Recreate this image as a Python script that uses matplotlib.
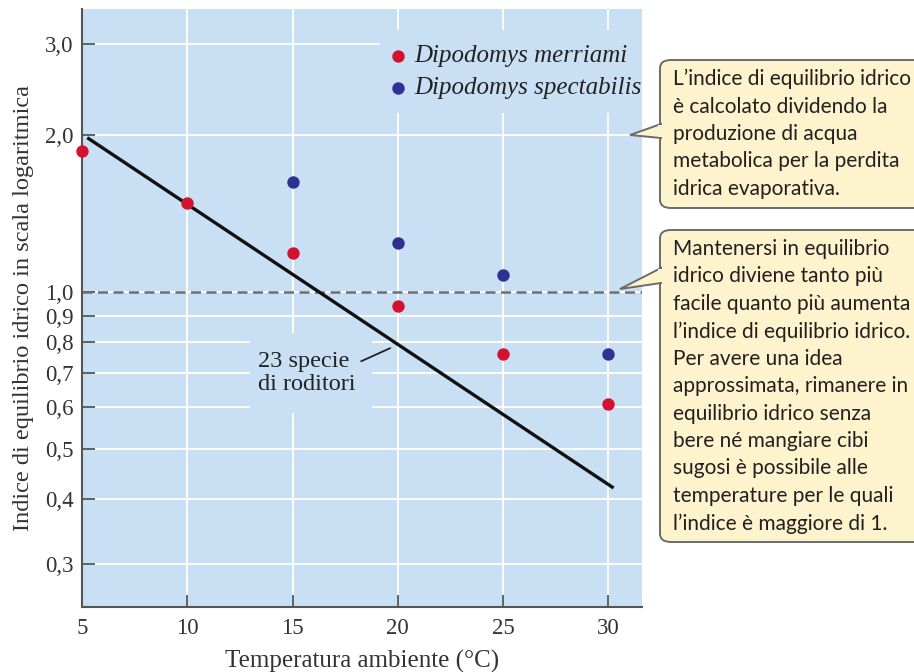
import numpy as np
import matplotlib
matplotlib.use("Agg")
import matplotlib.pyplot as plt
from matplotlib.patches import Rectangle, FancyBboxPatch, Polygon
from matplotlib.ticker import FixedLocator, NullLocator

# dati
temp_merriami = [5, 10, 15, 20, 25, 30]
indice_merriami = [1.87, 1.48, 1.19, 0.94, 0.76, 0.61]
temp_spectabilis = [15, 20, 25, 30]
indice_spectabilis = [1.63, 1.24, 1.08, 0.76]
retta_temp = [5.25, 30.25]
retta_indice = [1.98, 0.42]

x_ticks = [5, 10, 15, 20, 25, 30]
y_ticks = [0.3, 0.4, 0.5, 0.6, 0.7, 0.8, 0.9, 1.0, 2.0, 3.0]
y_labels = ["0,3", "0,4", "0,5", "0,6", "0,7", "0,8", "0,9", "1,0", "2,0", "3,0"]

nota1 = ("L\u2019indice di equilibrio idrico\n"
         "è calcolato dividendo la\n"
         "produzione di acqua\n"
         "metabolica per la perdita\n"
         "idrica evaporativa.")
nota2 = ("Mantenersi in equilibrio\n"
         "idrico diviene tanto più\n"
         "facile quanto più aumenta\n"
         "l\u2019indice di equilibrio idrico.\n"
         "Per avere una idea\n"
         "approssimata, rimanere in\n"
         "equilibrio idrico senza\n"
         "bere né mangiare cibi\n"
         "sugosi è possibile alle\n"
         "temperature per le quali\n"
         "l\u2019indice è maggiore di 1.")

BG = "#c9dff3"
RED = "#d2122e"
BLUE = "#2e3192"
YELLOW = "#fdf4cd"
W, H = 914, 672

plt.rcParams["font.family"] = ["Liberation Serif", "DejaVu Serif"]

fig = plt.figure(figsize=(W / 100, H / 100), dpi=100)
ax = fig.add_axes([82 / W, 1 - 607 / H, 560 / W, 598 / H])
ax.set_facecolor(BG)
ax.set_yscale("log")
ax.set_xlim(5, 31.6)
ax.set_ylim(0.248, 3.5)

ax.xaxis.set_major_locator(FixedLocator(x_ticks))
ax.yaxis.set_major_locator(FixedLocator(y_ticks))
ax.yaxis.set_minor_locator(NullLocator())
ax.set_yticklabels(y_labels)
ax.tick_params(direction="in", length=9, width=1.3, color="#555555",
               labelsize=16.5, labelcolor="#333333")
ax.tick_params(axis="x", pad=8)
ax.tick_params(axis="y", pad=6)
ax.set_axisbelow(True)
ax.grid(True, color="white", linewidth=1.3)

for s in ["top", "right"]:
    ax.spines[s].set_visible(False)
for s in ["left", "bottom"]:
    ax.spines[s].set_color("#555555")
    ax.spines[s].set_linewidth(1.5)

# zone che interrompono la griglia
ax.add_patch(Rectangle((0.532, 0.826), 0.468, 0.139, transform=ax.transAxes,
                       facecolor=BG, edgecolor="none", zorder=1))
ax.add_patch(Rectangle((0.30, 0.324), 0.218, 0.134, transform=ax.transAxes,
                       facecolor=BG, edgecolor="none", zorder=1))

ax.axhline(1.0, color="#6d6e71", linewidth=1.8, linestyle=(0, (4, 2.2)), zorder=2)
ax.plot(retta_temp, retta_indice, color="#111111", linewidth=2.4, zorder=3,
        solid_capstyle="butt")

ax.scatter(temp_merriami, indice_merriami, s=80, color=RED, zorder=4,
           clip_on=False, linewidths=0, label="Dipodomys merriami")
ax.scatter(temp_spectabilis, indice_spectabilis, s=80, color=BLUE, zorder=4,
           clip_on=False, linewidths=0, label="Dipodomys spectabilis")

leg = ax.legend(loc="upper left", bbox_to_anchor=(0.542, 0.94), frameon=False,
                prop={"style": "italic", "size": 18}, handletextpad=0.15,
                labelspacing=0.38, borderaxespad=0, borderpad=0,
                handlelength=1.0)
for t in leg.get_texts():
    t.set_color("#222222")

ax.text(13.35, 0.70, "23 specie\ndi roditori", fontsize=17.5, color="#222222",
        va="center", ha="left", linespacing=1.12, zorder=2)
ax.annotate("", xy=(19.64, 0.78), xytext=(18.26, 0.736),
            arrowprops=dict(arrowstyle="-", color="#222222", lw=1.3,
                            shrinkA=0, shrinkB=0))

ax.set_xlabel("Temperatura ambiente (\u00b0C)", fontsize=18, color="#333333",
              labelpad=7.5)
ax.set_ylabel("Indice di equilibrio idrico in scala logaritmica", fontsize=17.6,
              color="#333333", labelpad=8)


def px(x, y):
    return (x / W, 1 - y / H)


def fumetto(top, bottom, punta, base1, base2, testo):
    x0, y0 = px(660, bottom)
    x1, y1 = px(940, top)
    box = FancyBboxPatch((x0, y0), x1 - x0, y1 - y0, transform=fig.transFigure,
                         boxstyle="round,pad=0,rounding_size=0.012",
                         facecolor=YELLOW, edgecolor="#6b6b6b", linewidth=1.4,
                         zorder=5)
    fig.patches.append(box)
    tri = Polygon([px(*punta), px(661, base1), px(661, base2)], closed=True,
                  transform=fig.transFigure, facecolor=YELLOW,
                  edgecolor="#6b6b6b", linewidth=1.4, zorder=6)
    fig.patches.append(tri)
    copri = Polygon([px(663, base1 + 1), px(663, base2 - 1), px(658, base2 - 1),
                     px(658, base1 + 1)], closed=True, transform=fig.transFigure,
                    facecolor=YELLOW, edgecolor="none", zorder=7)
    fig.patches.append(copri)
    fig.text(673 / W, 1 - (top + 9) / H, testo, fontsize=15,
             family=["Lato", "DejaVu Sans"], color="#231f20", va="top",
             ha="left", linespacing=1.46, zorder=8)


fumetto(60, 208, (630, 135), 124, 138, nota1)
fumetto(230, 542, (620, 289), 268, 283, nota2)

fig.savefig("out.png", dpi=100)
